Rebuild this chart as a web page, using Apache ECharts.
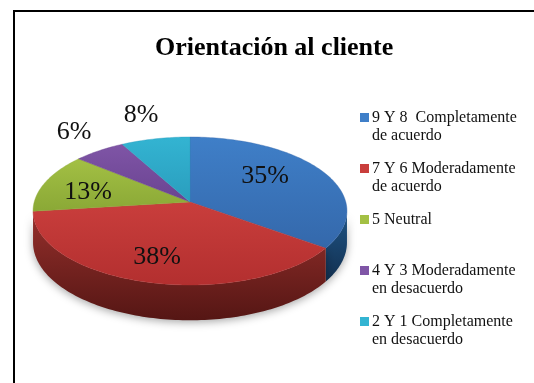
<!DOCTYPE html>
<html><head><meta charset="utf-8">
<style>html,body{margin:0;padding:0;background:#fff}#c{width:534px;height:383px}</style>
<script src="https://cdn.jsdelivr.net/npm/echarts@6/dist/echarts.min.js"></script>
</head><body><div id="c"></div>
<script>
const titleText = 'Orientación al cliente';
const categories = ['9 Y 8  Completamente\nde acuerdo','7 Y 6 Moderadamente\nde acuerdo','5 Neutral\n ','4 Y 3 Moderadamente\nen desacuerdo','2 Y 1 Completamente\nen desacuerdo'];
const percents = [35,38,13,6,8];
const topColors = [['#3f7fc8','#3468ab'],['#c93e3c','#b32f2f'],['#a3c044','#8aa836'],['#7f55a6','#6a4391'],['#33b4d2','#2a9dbd']];
const wallColors = [['#1f5485','#123050'],['#96302c','#551614'],['#6f8a2c','#556a20'],['#56306f','#42255a'],['#1d7d96','#155f73']];
const labelPos = [[265,176],[157,257],[88,192],[74,132],[141,115]];

const cx=190, cy=202, a=155.8, b=72.9, k=0.1216, depth=31;
const total = percents.reduce((s,v)=>s+v,0);
function project(t,dz){
  const u=Math.sin(t), v=-Math.cos(t), d=1-k*v;
  return [cx+a*u/d, cy+b*v/d+(dz||0)/d];
}
function vGrad(c){return {type:'linear',x:0,y:0,x2:0,y2:1,colorStops:[{offset:0,color:c[0]},{offset:1,color:c[1]}]};}
function makeSeries(i){
  const before = percents.slice(0,i).reduce((s,v)=>s+v,0);
  return {
    type:'custom', name:categories[i], coordinateSystem:'none',
    itemStyle:{color:topColors[i][0]}, animation:false, silent:true,
    data:[[percents[i]]],
    renderItem(params,api){
      const val=api.value(0);
      const t0=before/total*2*Math.PI, t1=(before+val)/total*2*Math.PI;
      const n=Math.max(8,Math.round(val*3));
      const arc=[], wallTop=[];
      for(let j=0;j<=n;j++){
        const t=t0+(t1-t0)*j/n;
        arc.push(project(t));
        if(-Math.cos(t)>k) wallTop.push(t);
      }
      const children=[];
      if(wallTop.length>1){
        const upper=wallTop.map(t=>project(t));
        const lower=wallTop.map(t=>project(t,depth)).reverse();
        children.push({type:'polygon',shape:{points:upper.concat(lower)},
          style:{fill:vGrad(wallColors[i]),shadowBlur:8,shadowColor:'rgba(0,0,0,0.35)',shadowOffsetY:2}});
      }
      children.push({type:'polygon',shape:{points:[[cx,cy]].concat(arc)},
        style:{fill:vGrad(topColors[i]),stroke:topColors[i][1],lineWidth:0.4}});
      children.push({type:'text',z2:10,style:{text:val+'%',x:labelPos[i][0],y:labelPos[i][1],
        align:'center',verticalAlign:'middle',fontFamily:'Liberation Serif',fontSize:26,fill:'#111'}});
      return {type:'group',children};
    }
  };
}
const chart=echarts.init(document.getElementById('c'),null,{renderer:'canvas'});
chart.setOption({
  animation:false, backgroundColor:'#fff',
  title:{text:titleText,left:155,top:35,padding:0,itemGap:0,
    textStyle:{fontFamily:'Liberation Serif',fontWeight:'bold',fontSize:26,color:'#000'}},
  legend:{orient:'vertical',left:360,top:109,padding:0,itemWidth:9,itemHeight:36,itemGap:15,
    icon:'path://M0 4H9V13H0ZM0 0H0.01V0.01ZM0 36H0.01V36Z',selectedMode:false,
    data:categories,
    textStyle:{fontFamily:'Liberation Serif',fontSize:16,lineHeight:18,color:'#111',padding:[0,0,0,-2]}},
  series:categories.map((_,i)=>makeSeries(i)),
  graphic:[
    {type:'line',shape:{x1:14,y1:11,x2:534,y2:11},style:{stroke:'#000',lineWidth:2}},
    {type:'line',shape:{x1:14,y1:10,x2:14,y2:383},style:{stroke:'#000',lineWidth:2}}
  ]
});
</script></body></html>
